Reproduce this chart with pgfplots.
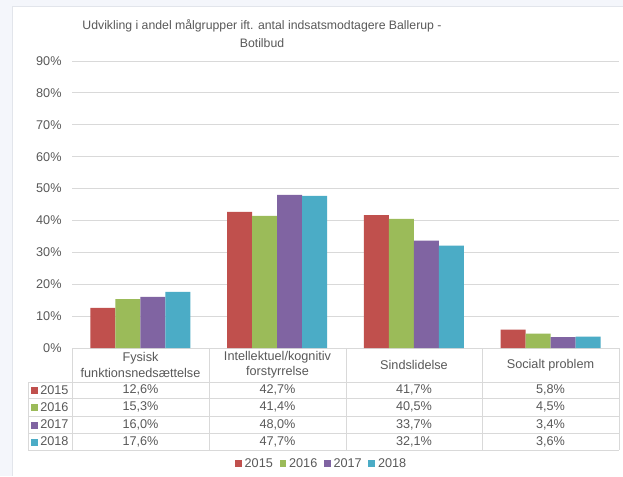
\documentclass[border=0pt]{standalone}
\usepackage{pgfplots}
\pgfplotsset{compat=1.18}
\usepackage{fontspec}
\setmainfont{Liberation Sans}
\definecolor{c15}{HTML}{C0504D}
\definecolor{c16}{HTML}{9BBB59}
\definecolor{c17}{HTML}{8064A2}
\definecolor{c18}{HTML}{4BACC6}
\definecolor{txt}{HTML}{595959}
\definecolor{gridc}{HTML}{D9D9D9}
\definecolor{bgc}{HTML}{F4F6FB}
\definecolor{framec}{HTML}{E2E5EB}
\newcommand{\sq}[1]{\textcolor{#1}{\rule{5.2pt}{5.2pt}}}
\begin{document}
\begin{tikzpicture}[x=0.75pt,y=0.75pt]
\fill[bgc] (0,0) rectangle (623,476);
\fill[white] (12,0) rectangle (623,470);
\draw[framec] (12,0) -- (12,470) -- (623,470);
\begin{axis}[
  at={(54pt,96pt)}, anchor=south west, scale only axis,
  width=410.25pt, height=215.25pt,
  ybar=0pt, bar width=18.75pt,
  ymin=0, ymax=90, xmin=-0.5, xmax=3.5,
  ytick={0,10,...,90},
  /pgf/number format/assume math mode=true,
  yticklabel={\pgfmathprintnumber{\tick}\%},
  xtick=\empty,
  axis line style={draw=none},
  major tick length=0pt,
  ymajorgrids, grid style={gridc, line width=0.6pt},
  tick label style={font=\fontsize{9.5}{11}\selectfont, text=txt},
  yticklabel style={xshift=-4.3pt},
  legend style={at={(0.457,-0.404)}, anchor=center, draw=none, fill=none,
     legend columns=4, font=\fontsize{9.5}{11}\selectfont, text=txt,
     /tikz/every even column/.append style={column sep=3pt},
     inner sep=0pt},
  clip=false,
]
\pgfplotsset{sqleg/.style={legend image code/.code={\fill[##1] (0pt,-2.6pt) rectangle (5.2pt,2.6pt);}}}
\addplot[fill=c15, draw=none, sqleg] coordinates {(0,12.6) (1,42.7) (2,41.7) (3,5.8)};
\addplot[fill=c16, draw=none, sqleg] coordinates {(0,15.3) (1,41.4) (2,40.5) (3,4.5)};
\addplot[fill=c17, draw=none, sqleg] coordinates {(0,16.0) (1,48.0) (2,33.7) (3,3.4)};
\addplot[fill=c18, draw=none, sqleg] coordinates {(0,17.6) (1,47.7) (2,32.1) (3,3.6)};
\legend{2015,2016,2017,2018}
\end{axis}
% title
\node[align=center, text=txt, font=\fontsize{9.2}{13}\selectfont] at (262,476-33.5)
  {Udvikling i andel målgrupper ift. antal indsatsmodtagere Ballerup -\\Botilbud};
% table lines
\begin{scope}[draw=gridc, line width=0.6pt]
\foreach \yy in {382,398,416,433,450} \draw (28,476-\yy) -- (619,476-\yy);
\draw (28,476-382) -- (28,476-450);
\foreach \xx in {72,209,346,482,619} \draw (\xx,476-348) -- (\xx,476-450);
\end{scope}
\begin{scope}[every node/.style={text=txt, font=\fontsize{9.5}{11.5}\selectfont, align=center}]
\node at (140.5,476-365) {Fysisk\\funktionsnedsættelse};
\node at (277.5,476-365) {Intellektuel/kognitiv\\forstyrrelse};
\node at (414,476-365) {Sindslidelse};
\node at (550.5,476-365) {Socialt problem};
\node[anchor=west, inner sep=0pt] at (31,476-390) {\sq{c15}\,2015};
\node[anchor=west, inner sep=0pt] at (31,476-407) {\sq{c16}\,2016};
\node[anchor=west, inner sep=0pt] at (31,476-424.5) {\sq{c17}\,2017};
\node[anchor=west, inner sep=0pt] at (31,476-441.5) {\sq{c18}\,2018};
\node at (140.5,476-390) {12,6\%};
\node at (277.5,476-390) {42,7\%};
\node at (414,476-390) {41,7\%};
\node at (550.5,476-390) {5,8\%};
\node at (140.5,476-407) {15,3\%};
\node at (277.5,476-407) {41,4\%};
\node at (414,476-407) {40,5\%};
\node at (550.5,476-407) {4,5\%};
\node at (140.5,476-424.5) {16,0\%};
\node at (277.5,476-424.5) {48,0\%};
\node at (414,476-424.5) {33,7\%};
\node at (550.5,476-424.5) {3,4\%};
\node at (140.5,476-441.5) {17,6\%};
\node at (277.5,476-441.5) {47,7\%};
\node at (414,476-441.5) {32,1\%};
\node at (550.5,476-441.5) {3,6\%};
\end{scope}
\pgfresetboundingbox
\path (0,0) rectangle (623,476);
\end{tikzpicture}
\end{document}
